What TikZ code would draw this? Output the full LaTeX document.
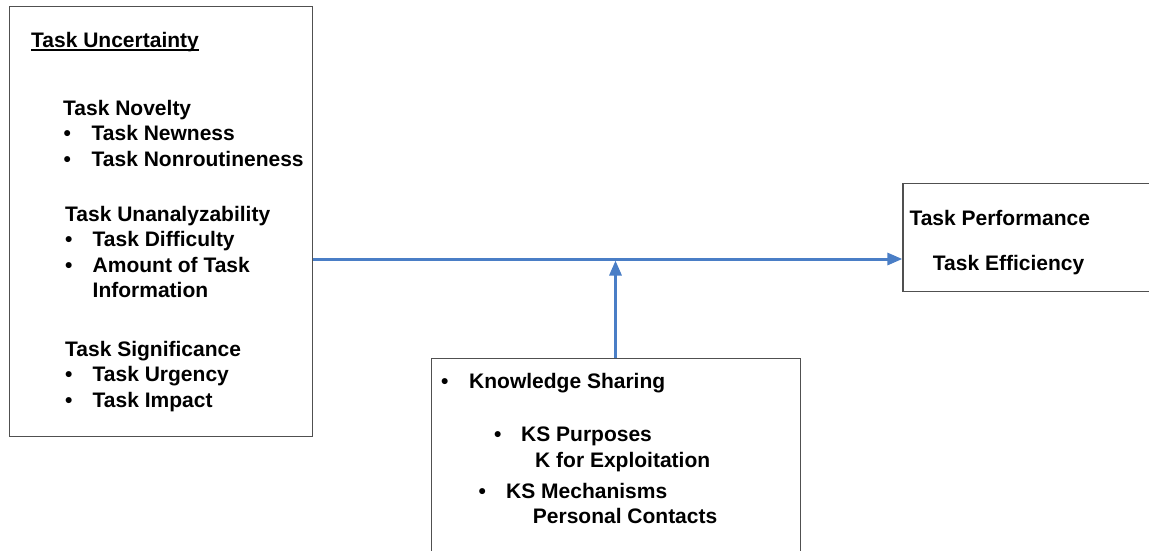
\documentclass[tikz,border=0pt]{standalone}
\usepackage{fontspec}
\setmainfont{Liberation Sans}
\usetikzlibrary{arrows.meta}
\definecolor{lineblue}{RGB}{74,126,198}
\definecolor{framegray}{RGB}{80,80,80}
% bullet followed by a fixed gap before the item text
\newcommand{\bulletgap}[1]{\makebox[#1][l]{\textbullet}}
\begin{document}
\begin{tikzpicture}[x=1pt,y=-1pt,
  txt/.style={anchor=base west, inner sep=0pt, font=\fontsize{21}{24}\selectfont\bfseries},
  box/.style={draw=framegray, line width=1.3pt, inner sep=0pt},
  link/.style={draw=lineblue, line width=3pt, -{Triangle[length=15pt,width=12pt]}}]
\useasboundingbox (0,0) rectangle (1149,550);

% frames
\node[box, minimum width=303pt, minimum height=430.5pt] (unc) at (160.75,221.5) {};
\node[box, minimum width=260pt, minimum height=108pt] (perf) at (1033,237.2) {};
\node[box, minimum width=368.5pt, minimum height=230pt] (ks) at (616,473.3) {};

% left frame: task uncertainty
\node[txt] (tu) at (31,47) {Task Uncertainty};
\draw[line width=1.5pt] ([yshift=-3pt]tu.base west) -- ([yshift=-3pt]tu.base east);
\node[txt] (nov) at (63,115.5) {Task Novelty};
\node[txt] (nov1) at (63.5,140) {\bulletgap{28pt}Task Newness};
\node[txt] (nov2) at (63.5,166.2) {\bulletgap{28pt}Task Nonroutineness};
\node[txt] (una) at (65,221) {Task Unanalyzability};
\node[txt] (una1) at (65,246.5) {\bulletgap{27.5pt}Task Difficulty};
\node[txt] (una2) at (65,272) {\bulletgap{27.5pt}Amount of Task};
\node[txt] (una3) at (92.5,297.5) {Information};
\node[txt] (sig) at (65,356) {Task Significance};
\node[txt] (sig1) at (65,381.5) {\bulletgap{27.5pt}Task Urgency};
\node[txt] (sig2) at (65,407) {\bulletgap{27.5pt}Task Impact};

% right frame: task performance
\node[txt] (tp) at (909.3,225.7) {Task Performance};
\node[txt] (te) at (932.7,270) {Task Efficiency};

% bottom frame: knowledge sharing
\node[txt] (ksh) at (441,388) {\bulletgap{28pt}Knowledge Sharing};
\node[txt] (ksp) at (494,441) {\bulletgap{27pt}KS Purposes};
\node[txt] (ksp1) at (535,467) {K for Exploitation};
\node[txt] (ksm) at (478.5,498.5) {\bulletgap{27.5pt}KS Mechanisms};
\node[txt] (ksm1) at (532.7,523.5) {Personal Contacts};

% connectors
\coordinate (mid) at (615.5,259);
\draw[link] (unc.east |- mid) -- (perf.west |- mid);
\draw[link] (ks.north -| mid) -- ([yshift=-1.5pt]mid);
\end{tikzpicture}
\end{document}
